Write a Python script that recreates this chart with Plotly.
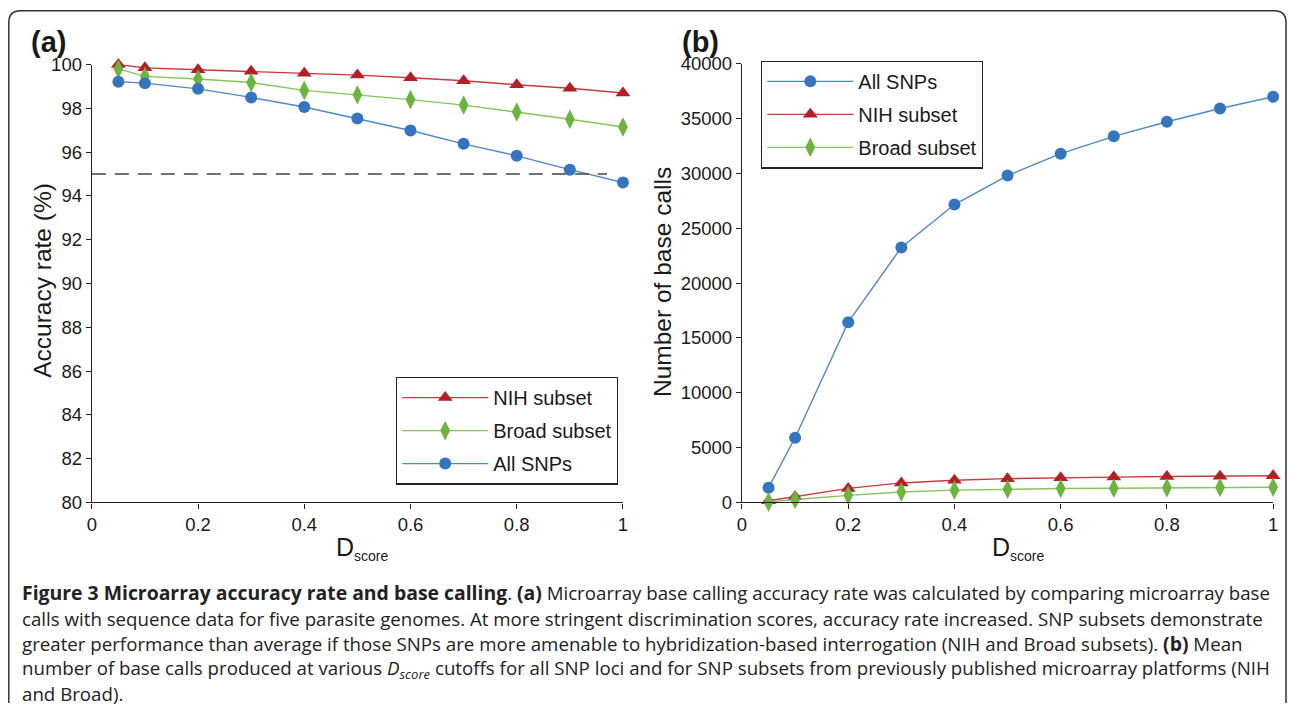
import plotly.graph_objects as go

W, H = 1293, 713

# ---------------- data ----------------
d_score = [0.05, 0.1, 0.2, 0.3, 0.4, 0.5, 0.6, 0.7, 0.8, 0.9, 1.0]

acc_nih = [100.0, 99.85, 99.76, 99.69, 99.6, 99.52, 99.4, 99.26, 99.08, 98.92, 98.7]
acc_broad = [99.8, 99.46, 99.34, 99.18, 98.82, 98.62, 98.4, 98.15, 97.83, 97.5, 97.15]
acc_all = [99.22, 99.15, 98.89, 98.5, 98.06, 97.54, 96.99, 96.38, 95.83, 95.2, 94.61]

calls_all = [1350, 5900, 16430, 23240, 27150, 29790, 31790, 33370, 34700, 35910, 36970]
calls_nih = [150, 520, 1280, 1780, 2030, 2170, 2260, 2310, 2360, 2390, 2430]
calls_broad = [30, 270, 650, 950, 1120, 1210, 1270, 1300, 1330, 1360, 1390]

threshold_x = [0, 0.97]
threshold_y = [95, 95]

x_ticks = [0, 0.2, 0.4, 0.6, 0.8, 1]
acc_ticks = [80, 82, 84, 86, 88, 90, 92, 94, 96, 98, 100]
calls_ticks = [0, 5000, 10000, 15000, 20000, 25000, 30000, 35000, 40000]

# ---------------- styles ----------------
RED_M, RED_L = "#B21F25", "#C63A3F"
GRN_M, GRN_L = "#6BB43F", "#84C45A"
BLU_M, BLU_L = "#3475BE", "#4D88C8"
FONT = "Liberation Sans, Arial, Helvetica, sans-serif"

# small correction of the page-to-picture mapping
SX, OX = 0.992, 5.2
SY, OY = 0.973, 10.3


def px(x):
    return (x - OX) / SX / W


def py(y):
    return 1 - (y - OY) / SY / H


fig = go.Figure()

common = dict(mode="lines+markers", cliponaxis=False)

# Panel (a)
fig.add_trace(go.Scatter(x=d_score, y=acc_nih, name="NIH subset", xaxis="x", yaxis="y",
                         line=dict(color=RED_L, width=1.4),
                         marker=dict(symbol="triangle-up", size=13, color=RED_M),
                         legend="legend", legendgroup="a1", **common))
fig.add_trace(go.Scatter(x=d_score, y=acc_broad, name="Broad subset", xaxis="x", yaxis="y",
                         line=dict(color=GRN_L, width=1.4),
                         marker=dict(symbol="diamond-tall", size=14, color=GRN_M),
                         legend="legend", legendgroup="a2", **common))
fig.add_trace(go.Scatter(x=d_score, y=acc_all, name="All SNPs", xaxis="x", yaxis="y",
                         line=dict(color=BLU_L, width=1.4),
                         marker=dict(symbol="circle", size=12, color=BLU_M),
                         legend="legend", legendgroup="a3", **common))
fig.add_trace(go.Scatter(x=threshold_x, y=threshold_y, mode="lines", xaxis="x", yaxis="y",
                         line=dict(color="#444444", width=1.6, dash="14px,9px"),
                         showlegend=False, hoverinfo="skip"))

# Panel (b)
fig.add_trace(go.Scatter(x=d_score, y=calls_all, name="All SNPs", xaxis="x2", yaxis="y2",
                         line=dict(color=BLU_L, width=1.4),
                         marker=dict(symbol="circle", size=12, color=BLU_M),
                         legend="legend2", legendgroup="b1", **common))
fig.add_trace(go.Scatter(x=d_score, y=calls_nih, name="NIH subset", xaxis="x2", yaxis="y2",
                         line=dict(color=RED_L, width=1.4),
                         marker=dict(symbol="triangle-up", size=13, color=RED_M),
                         legend="legend2", legendgroup="b2", **common))
fig.add_trace(go.Scatter(x=d_score, y=calls_broad, name="Broad subset", xaxis="x2", yaxis="y2",
                         line=dict(color=GRN_L, width=1.4),
                         marker=dict(symbol="diamond-tall", size=14, color=GRN_M),
                         legend="legend2", legendgroup="b3", **common))

axis_style = dict(showline=True, linecolor="#222222", linewidth=1.3, ticks="outside",
                  ticklen=5, tickwidth=1.2, tickcolor="#222222", showgrid=False,
                  zeroline=False, tickfont=dict(family=FONT, size=18.5, color="#1a1a1a"))

legend_style = dict(bgcolor="white", bordercolor="#222222", borderwidth=1.3,
                    font=dict(family=FONT, size=20, color="#1a1a1a"),
                    itemwidth=86, tracegroupgap=4, traceorder="grouped",
                    xanchor="left", yanchor="top")

fig.update_layout(
    width=W, height=H,
    margin=dict(l=0, r=0, t=0, b=0),
    paper_bgcolor="white", plot_bgcolor="white",
    font=dict(family=FONT, size=18, color="#1a1a1a"),
    xaxis=dict(domain=[px(92), px(623)], range=[0, 1], tickvals=x_ticks,
               anchor="y", **axis_style),
    yaxis=dict(domain=[py(503), py(64)], range=[80, 100], tickvals=acc_ticks,
               anchor="x", **axis_style),
    xaxis2=dict(domain=[px(742), px(1273)], range=[0, 1], tickvals=x_ticks,
                anchor="y2", **axis_style),
    yaxis2=dict(domain=[py(503), py(63)], range=[0, 40000], tickvals=calls_ticks,
                tickformat="d", anchor="x2", **axis_style),
    legend=dict(x=px(396), y=py(377), **legend_style),
    legend2=dict(x=px(761), y=py(60), **legend_style),
)

# Frame with rounded top corners; sides run to the bottom edge
fx0, fy0, fx1, r = px(9), py(10), 1291 / W, 12
rx, ry = r / W, r / H
path = (f"M {fx0},0 L {fx0},{fy0 - ry} Q {fx0},{fy0} {fx0 + rx},{fy0} "
        f"L {fx1 - rx},{fy0} Q {fx1},{fy0} {fx1},{fy0 - ry} L {fx1},0")
fig.add_shape(type="path", path=path, xref="paper", yref="paper",
              line=dict(color="#333333", width=1.5), layer="below")

ann = []
ann.append(dict(text="<b>(a)</b>", x=px(29), y=py(41), font=dict(size=29, family=FONT, color="#1a1a1a"),
                xanchor="left", yanchor="middle"))
ann.append(dict(text="<b>(b)</b>", x=px(680), y=py(41), font=dict(size=29, family=FONT, color="#1a1a1a"),
                xanchor="left", yanchor="middle"))
ann.append(dict(text="Accuracy rate (%)", x=px(42), y=py(280), textangle=-90,
                font=dict(size=24.5, family=FONT, color="#1a1a1a"), xanchor="center", yanchor="middle"))
ann.append(dict(text="Number of base calls", x=px(662), y=py(282), textangle=-90,
                font=dict(size=24.5, family=FONT, color="#1a1a1a"), xanchor="center", yanchor="middle"))
dlabel = "D<sub><span style='font-size:14px'>score</span></sub>"
ann.append(dict(text=dlabel, x=px(363), y=py(549), font=dict(size=25, family=FONT, color="#1a1a1a"),
                xanchor="center", yanchor="middle"))
ann.append(dict(text=dlabel, x=px(1018), y=py(549), font=dict(size=25, family=FONT, color="#1a1a1a"),
                xanchor="center", yanchor="middle"))

B = "<span style='font-size:19.4px'><b>{}</b></span>"
caption = [
    B.format("Figure 3 Microarray accuracy rate and base calling") + ". " + B.format("(a)")
    + " Microarray base calling accuracy rate was calculated by comparing microarray base",
    "calls with sequence data for five parasite genomes. At more stringent discrimination scores, accuracy rate increased. SNP subsets demonstrate",
    "greater performance than average if those SNPs are more amenable to hybridization-based interrogation (NIH and Broad subsets). "
    + B.format("(b)") + " Mean",
    "number of base calls produced at various <i>D<sub>score</sub></i> cutoffs for all SNP loci and for SNP subsets from previously published microarray platforms (NIH",
    "and Broad).",
]
cap_y = [593, 619, 644, 670, 695]
for line, yy in zip(caption, cap_y):
    ann.append(dict(text=line, x=px(20), y=py(yy), xanchor="left", yanchor="middle",
                    font=dict(size=18.7, family="Open Sans, sans-serif", color="#222222")))

for a in ann:
    a.update(xref="paper", yref="paper", showarrow=False)
fig.update_layout(annotations=ann)

page_fix = (
    "var h=document.documentElement,b=document.body;"
    "h.style.margin='0';h.style.padding='0';h.style.overflow='hidden';"
    "b.style.margin='0';b.style.padding='0';b.style.overflow='hidden';"
)
fig.write_html("out.html", config={"displayModeBar": False}, post_script=page_fix)
